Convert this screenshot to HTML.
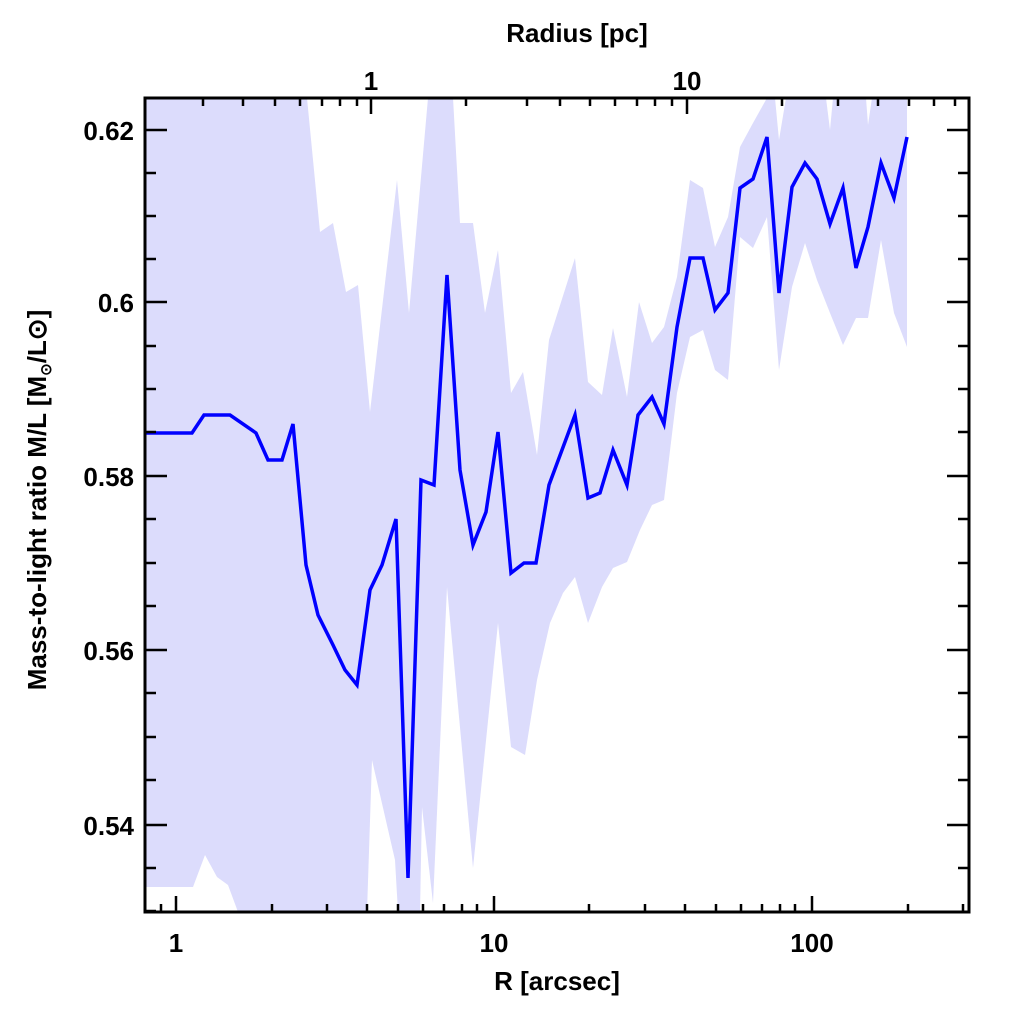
<!DOCTYPE html>
<html><head><meta charset="utf-8"><style>
html,body{margin:0;padding:0;background:#fff;}
svg text{font-family:"Liberation Sans",sans-serif;font-weight:bold;fill:#000;}
</style></head><body>
<svg width="1024" height="1024" viewBox="0 0 1024 1024" xmlns="http://www.w3.org/2000/svg">
<defs><clipPath id="c"><rect x="145" y="99" width="824" height="812"/></clipPath></defs>
<g clip-path="url(#c)">
<polygon fill="#dcdcfc" points="145,98 307,98 320,232 333,223 346,292 358,285 370,412 397,180 409,313 428,98 453,98 460,223 473,223 485,313 498,250 511,393 523,372 537,455 549,340 575,258 588,382 602,395 613,328 627,397 639,302 652,343 664,327 677,277 690,180 703,188 715,247 728,217 740,147 753,123 767,98 775,98 779,140 786,98 826,98 830,130 833,98 866,98 868,125 872,98 907,98 907,347 894,313 881,240 868,318 856,318 843,345 830,313 817,280 805,243 792,287 779,370 767,217 753,248 740,237 728,380 715,370 703,330 690,337 677,393 664,500 652,505 640,530 627,562 613,568 602,587 588,623 575,577 563,593 550,623 537,680 525,755 511,747 498,623 473,868 447,587 433,903 422,807 420,912 398,912 395,860 372,760 367,912 238,912 228,885 217,877 205,855 193,887 145,887"/>
<polyline fill="none" stroke="#0000ff" stroke-width="3.5" stroke-linejoin="miter" points="145,433 192,433 204,415 230,415 256,433 268,460 282,460 293,424 306,565 318,615 333,645 345,670 357,685 370,590 382,565 396,519 408,878 421,480 434,485 447,275 460,470 473,545 486,512 498,432 511,573 524,563 536,563 549,485 575,415 588,498 600,493 613,450 627,485 638,415 652,397 664,424 677,327 690,258 703,258 715,310 728,293 740,188 753,179 767,137 779,293 792,187 805,163 817,179 830,224 843,188 856,268 868,227 881,163 894,198 907,137"/>
</g>
<g stroke="#000" stroke-width="2.5" fill="none">
<rect x="145" y="98" width="824" height="814" stroke-width="3"/>
<path d="
M145,130h22M145,302h22M145,476h22M145,650h22M145,825h22
M969,130h-22M969,302h-22M969,476h-22M969,650h-22M969,825h-22
M145,173h11M145,216h11M145,259h11M145,346h11M145,389h11M145,432h11M145,519h11M145,563h11M145,606h11M145,693h11M145,737h11M145,780h11M145,868h11M145,911h11
M969,173h-11M969,216h-11M969,259h-11M969,346h-11M969,389h-11M969,432h-11M969,519h-11M969,563h-11M969,606h-11M969,693h-11M969,737h-11M969,780h-11M969,868h-11
M176,912v-16M494,912v-16M812,912v-16
M161,912v-8M272,912v-8M327,912v-8M367,912v-8M398,912v-8M423,912v-8M444,912v-8M462,912v-8M477,912v-8
M589,912v-8M645,912v-8M685,912v-8M716,912v-8M741,912v-8M762,912v-8M780,912v-8M795,912v-8
M908,912v-8M963,912v-8
M371,98v16M687,98v16
M203,98v8M243,98v8M275,98v8M300,98v8M322,98v8M340,98v8M357,98v8
M466,98v8M527,98v8M560,98v8M590,98v8M615,98v8M637,98v8M655,98v8M672,98v8
M782,98v8M838,98v8M878,98v8M909,98v8M934,98v8M955,98v8
"/>
</g>
<g font-size="26">
<text x="134" y="140" text-anchor="end">0.62</text>
<text x="134" y="312" text-anchor="end">0.6</text>
<text x="134" y="486" text-anchor="end">0.58</text>
<text x="134" y="660" text-anchor="end">0.56</text>
<text x="134" y="835" text-anchor="end">0.54</text>
<text x="176" y="952" text-anchor="middle">1</text>
<text x="494" y="952" text-anchor="middle">10</text>
<text x="812" y="952" text-anchor="middle">100</text>
<text x="371" y="90" text-anchor="middle">1</text>
<text x="687" y="90" text-anchor="middle">10</text>
<text x="557" y="990" text-anchor="middle">R [arcsec]</text>
<text x="577" y="42" text-anchor="middle">Radius [pc]</text>
<text transform="translate(46,500) rotate(-90)" text-anchor="middle">Mass-to-light ratio M/L [M<tspan font-size="15" dy="5">⊙</tspan><tspan dy="-5">/L⊙]</tspan></text>
</g>
</svg>
</body></html>
